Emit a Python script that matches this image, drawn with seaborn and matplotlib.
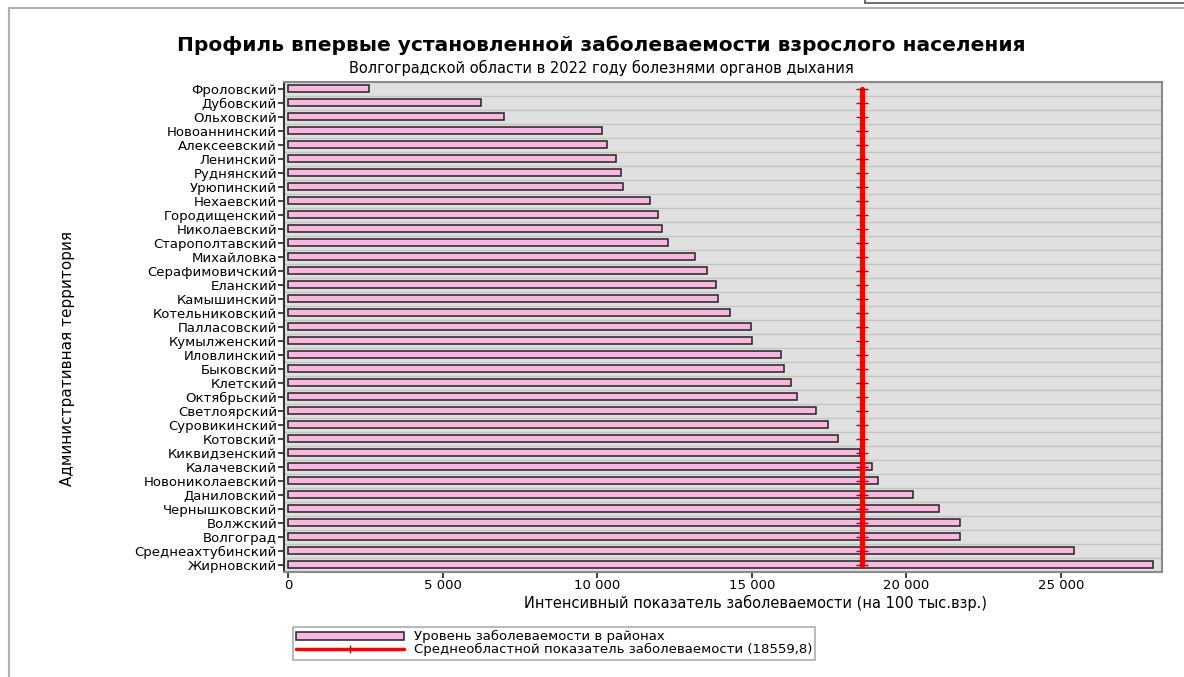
import numpy as np
import pandas as pd
import matplotlib
matplotlib.use("Agg")
import matplotlib.pyplot as plt
from matplotlib.lines import Line2D
from matplotlib.patches import Patch
import seaborn as sns

# Districts, top to bottom as in the chart
districts = [
    "Фроловский", "Дубовский", "Ольховский", "Новоаннинский", "Алексеевский",
    "Ленинский", "Руднянский", "Урюпинский", "Нехаевский", "Городищенский",
    "Николаевский", "Старополтавский", "Михайловка", "Серафимовичский", "Еланский",
    "Камышинский", "Котельниковский", "Палласовский", "Кумылженский", "Иловлинский",
    "Быковский", "Клетский", "Октябрьский", "Светлоярский", "Суровикинский",
    "Котовский", "Киквидзенский", "Калачевский", "Новониколаевский", "Даниловский",
    "Чернышковский", "Волжский", "Волгоград", "Среднеахтубинский", "Жирновский",
]
rates = [
    2620, 6253, 6996, 10165, 10307,
    10598, 10780, 10845, 11718, 11966,
    12106, 12280, 13153, 13541, 13842,
    13907, 14285, 14964, 15017, 15955,
    16031, 16268, 16452, 17076, 17464,
    17778, 18499, 18887, 19082, 20213,
    21054, 21733, 21733, 25420, 27975,
]
region_mean = 18559.8
xtick_values = [0, 5000, 10000, 15000, 20000, 25000]
xtick_labels = ["0", "5 000", "10 000", "15 000", "20 000", "25 000"]

title = "Профиль впервые установленной заболеваемости взрослого населения"
subtitle = "Волгоградской области в 2022 году болезнями органов дыхания"
xlabel = "Интенсивный показатель заболеваемости (на 100 тыс.взр.)"
ylabel = "Административная территория"
legend_labels = ["Уровень заболеваемости в районах",
                 "Среднеобластной показатель заболеваемости (18559,8)"]

df = pd.DataFrame({"district": districts, "rate": rates})

sns.set_theme(style="white")
plt.rcParams["font.family"] = ["DejaVu Sans"]
plt.rcParams["text.color"] = "black"
plt.rcParams["xtick.color"] = "black"
plt.rcParams["ytick.color"] = "black"

pink = "#f9b6e0"
fig = plt.figure(figsize=(11.84, 6.77), dpi=100)
ax = fig.add_axes([0.2399, 0.1551, 0.7416, 0.7238])
ax.set_facecolor("#e0e0e0")

sns.barplot(data=df, x="rate", y="district", orient="h", color=pink,
            edgecolor="#222222", linewidth=1.1, width=0.5, saturation=1, ax=ax)

n = len(districts)
ax.plot([region_mean] * n, np.arange(n), color="#ff0000", lw=3.8,
        marker="_", markersize=9, markeredgecolor="#c00000", markeredgewidth=1.0,
        zorder=5)

ax.set_xlim(-129, 28266)
ax.set_ylim(n - 0.5, -0.5)
ax.set_xticks(xtick_values)
ax.set_xticklabels(xtick_labels, fontsize=9.5)
ax.set_yticks(np.arange(n))
ax.set_yticklabels(districts, fontsize=9.5)
ax.set_yticks(np.arange(-0.5, n, 1.0), minor=True)
ax.grid(which="minor", axis="y", color="#c4c4c4", lw=1)
ax.grid(which="major", axis="both", visible=False)
ax.tick_params(axis="both", which="major", direction="out", length=4, width=1.2,
               color="#222222", pad=1, bottom=True, left=True)
ax.tick_params(axis="y", which="minor", length=0)
ax.set_xlabel("")
ax.set_ylabel("")
for side in ["top", "right", "bottom"]:
    ax.spines[side].set_color("#8a8a8a")
    ax.spines[side].set_linewidth(1.5)
ax.spines["left"].set_color("#333333")
ax.spines["left"].set_linewidth(1.5)

fig.text(0.508, 0.9335, title, ha="center", va="center", fontsize=14.5,
         fontweight="bold")
fig.text(0.508, 0.8995, subtitle, ha="center", va="center", fontsize=10.5)
fig.text(0.6385, 1 - 603 / 677, xlabel, ha="center", va="center", fontsize=10.5)
fig.text(0.0574, 0.47, ylabel, ha="center", va="center", fontsize=11,
         rotation=90)

handles = [
    Patch(facecolor=pink, edgecolor="#222222", linewidth=1.1),
    Line2D([0], [0], color="#ff0000", lw=2.5, marker="|", markersize=6,
           markeredgecolor="#c00000"),
]
leg = fig.legend(handles, legend_labels, loc="upper left",
                 bbox_to_anchor=(293 / 1184, 1 - 627 / 677), fontsize=9.5,
                 handlelength=8.2, handleheight=0.6, labelspacing=0.0,
                 borderpad=0.25, borderaxespad=0, handletextpad=0.7,
                 frameon=True, fancybox=False)
leg.get_frame().set_edgecolor("#9a9a9a")
leg.get_frame().set_linewidth(1.2)

# page frame and the box at the top right
fig.add_artist(Line2D([9 / 1184, 9 / 1184], [0, 1 - 8 / 677], color="#b0b0b0",
                      lw=1.5, transform=fig.transFigure))
fig.add_artist(Line2D([9 / 1184, 1], [1 - 8 / 677, 1 - 8 / 677], color="#b0b0b0",
                      lw=1.5, transform=fig.transFigure))
fig.add_artist(Line2D([865 / 1184, 1], [1 - 3 / 677, 1 - 3 / 677], color="#555555",
                      lw=1.2, transform=fig.transFigure))
fig.add_artist(Line2D([865 / 1184, 865 / 1184], [1 - 3 / 677, 1], color="#555555",
                      lw=1.2, transform=fig.transFigure))

fig.savefig("out.png", dpi=100)
